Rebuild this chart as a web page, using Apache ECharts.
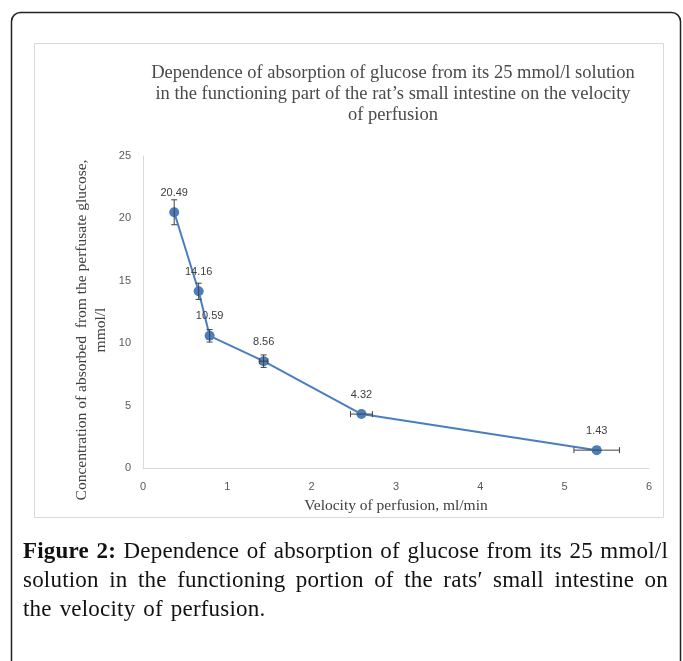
<!DOCTYPE html>
<html>
<head>
<meta charset="utf-8">
<script src="https://cdn.jsdelivr.net/npm/echarts@6/dist/echarts.min.js"></script>
<style>
  html, body { margin: 0; padding: 0; background: #fff; }
  #chart { position: absolute; left: 0; top: 0; width: 683px; height: 661px; }
  #caption { position: absolute; left: 23px; top: 536px; width: 645px;
    font-family: "Liberation Serif", "DejaVu Serif", serif; font-size: 23px; line-height: 29px;
    letter-spacing: 0.2px; color: #111; }
  #caption div { white-space: nowrap; }
  #caption .j { text-align: justify; text-align-last: justify; }
  #caption .last { word-spacing: 2px; }
</style>
</head>
<body>
<div id="chart"></div>
<div id="caption">
  <div class="j"><b>Figure 2:</b> Dependence of absorption of glucose from its 25 mmol/l</div>
  <div class="j">solution in the functioning portion of the rats′ small intestine on</div>
  <div class="last">the velocity of perfusion.</div>
</div>
<script>
// ---- data ----
const velocity = [0.37, 0.66, 0.79, 1.43, 2.59, 5.38];          // ml/min
const concentration = [20.49, 14.16, 10.59, 8.56, 4.32, 1.43];  // mmol/l
const yError = [1.0, 0.65, 0.5, 0.5, 0, 0];
const xError = [0, 0, 0, 0.05, 0.13, 0.27];
const xTicks = [0, 1, 2, 3, 4, 5, 6];
const yTicks = [0, 5, 10, 15, 20, 25];
const chartTitle = 'Dependence of absorption of glucose from its 25 mmol/l solution\nin the functioning part of the rat’s small intestine on the velocity\nof perfusion';
const xTitle = 'Velocity of perfusion, ml/min';
const yTitle = 'Concentration of absorbed  from the perfusate glucose,\nmmol/l';

const points = velocity.map((v, i) => [v, concentration[i]]);
const errData = velocity.map((v, i) => [v, concentration[i], yError[i], xError[i]]);

const chart = echarts.init(document.getElementById('chart'), null, { renderer: 'canvas' });
const serif = '"Liberation Serif", "DejaVu Serif", serif';
const sans = '"Liberation Sans", Arial, sans-serif';
const lineColor = '#4a7ebf';
const errColor = '#404040';

chart.setOption({
  animation: false,
  backgroundColor: '#fff',
  title: {
    text: chartTitle,
    left: 388, top: 58, textAlign: 'center',
    textStyle: { fontFamily: serif, fontSize: 18.5, fontWeight: 'normal', color: '#4a4a4a', lineHeight: 21 }
  },
  graphic: [
    { type: 'rect', silent: true, z: -10,
      shape: { x: 11.5, y: 12.5, width: 669, height: 720, r: [9, 9, 0, 0] },
      style: { fill: 'none', stroke: '#222', lineWidth: 1.5 } },
    { type: 'rect', silent: true, z: -9,
      shape: { x: 34.5, y: 43.5, width: 629, height: 474 },
      style: { fill: 'none', stroke: '#d9d9d9', lineWidth: 1 } },
    { type: 'text', silent: true,
      x: 91, y: 330, rotation: Math.PI / 2,
      style: { text: yTitle, fontFamily: serif, fontSize: 15.5, lineHeight: 19,
        fill: '#404040', align: 'center', verticalAlign: 'middle' } }
  ],
  grid: { left: 143, right: 34, top: 156, bottom: 193 },
  xAxis: {
    type: 'value', min: 0, max: 6, interval: 1,
    name: xTitle, nameLocation: 'middle', nameGap: 30,
    nameTextStyle: { fontFamily: serif, fontSize: 15.5, color: '#404040' },
    axisLine: { show: true, lineStyle: { color: '#d9d9d9', width: 1 } },
    axisTick: { show: false },
    splitLine: { show: false },
    axisLabel: { margin: 13, fontFamily: sans, fontSize: 11, color: '#595959',
      formatter: v => xTicks.includes(v) ? String(v) : '' }
  },
  yAxis: {
    type: 'value', min: 0, max: 25, interval: 5,
    axisLine: { show: true, lineStyle: { color: '#d9d9d9', width: 1 } },
    axisTick: { show: false },
    splitLine: { show: false },
    axisLabel: { margin: 12, fontFamily: sans, fontSize: 11, color: '#595959',
      formatter: v => yTicks.includes(v) ? String(v) : '' }
  },
  series: [
    {
      type: 'line', data: points, z: 3,
      symbol: 'circle', symbolSize: 10,
      lineStyle: { color: lineColor, width: 2 },
      itemStyle: { color: lineColor },
      label: { show: true, position: 'top', distance: 9, fontFamily: sans, fontSize: 11, color: '#404040',
        formatter: p => p.value[1].toFixed(2) }
    },
    {
      type: 'custom', data: errData, z: 4, silent: true,
      renderItem: (params, api) => {
        const x = api.value(0), y = api.value(1), ey = api.value(2), ex = api.value(3);
        const children = [];
        const st = { stroke: errColor, lineWidth: 1 };
        const cap = 3;
        if (ey > 0) {
          const top = api.coord([x, y + ey]);
          const bot = api.coord([x, y - ey]);
          children.push({ type: 'line', shape: { x1: top[0], y1: top[1], x2: bot[0], y2: bot[1] }, style: st });
          children.push({ type: 'line', shape: { x1: top[0] - cap, y1: top[1], x2: top[0] + cap, y2: top[1] }, style: st });
          children.push({ type: 'line', shape: { x1: bot[0] - cap, y1: bot[1], x2: bot[0] + cap, y2: bot[1] }, style: st });
        }
        if (ex > 0) {
          const l = api.coord([x - ex, y]);
          const r = api.coord([x + ex, y]);
          children.push({ type: 'line', shape: { x1: l[0], y1: l[1], x2: r[0], y2: r[1] }, style: st });
          children.push({ type: 'line', shape: { x1: l[0], y1: l[1] - cap, x2: l[0], y2: l[1] + cap }, style: st });
          children.push({ type: 'line', shape: { x1: r[0], y1: r[1] - cap, x2: r[0], y2: r[1] + cap }, style: st });
        }
        return { type: 'group', children };
      }
    }
  ]
});
</script>
</body>
</html>
